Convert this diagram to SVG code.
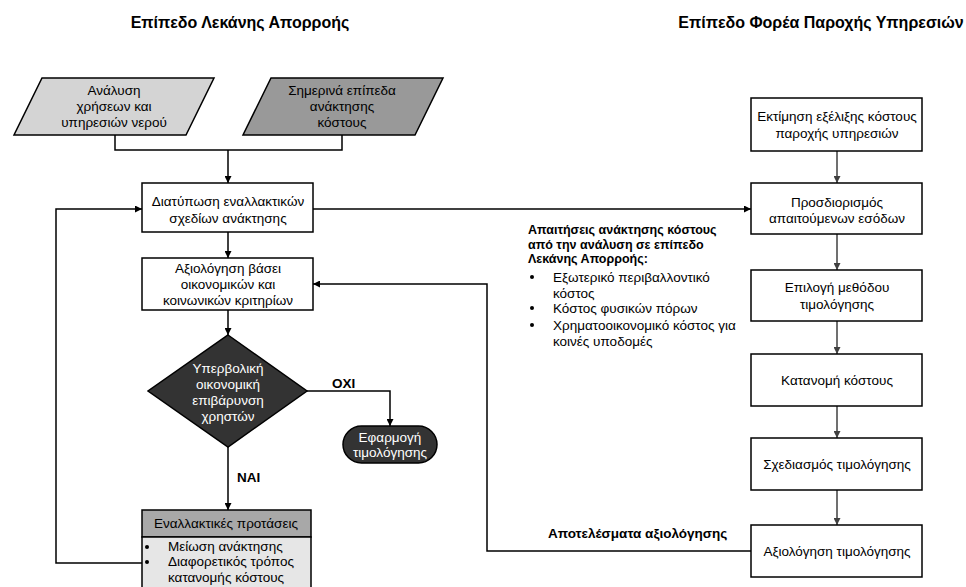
<svg xmlns="http://www.w3.org/2000/svg" width="966" height="587" viewBox="0 0 966 587">
<style>
text{font-family:"Liberation Sans",Arial,sans-serif;font-size:13.5px;fill:#000}
.c{text-anchor:middle}
.b{font-weight:bold}
.r{font-size:12.5px}
.t{font-size:16px;font-weight:bold}
.w{fill:#fff}
.box{fill:#fff;stroke:#000;stroke-width:1.5}
.ln{fill:none;stroke:#000;stroke-width:1.5}
.lg{fill:none;stroke:#404040;stroke-width:1.5}
</style>
<defs>
<marker id="a" viewBox="0 0 10 10" refX="10" refY="5" markerWidth="7" markerHeight="7" markerUnits="userSpaceOnUse" orient="auto"><path d="M0,0 L10,5 L0,10 z" fill="#000"/></marker>
<marker id="ag" viewBox="0 0 10 10" refX="10" refY="5" markerWidth="7" markerHeight="7" markerUnits="userSpaceOnUse" orient="auto"><path d="M0,0 L10,5 L0,10 z" fill="#404040"/></marker>
</defs>
<rect width="966" height="587" fill="#fff"/>
<text class="t c" x="240" y="28">Επίπεδο Λεκάνης Απορροής</text>
<text class="t c" x="821" y="28">Επίπεδο Φορέα Παροχής Υπηρεσιών</text>

<g id="connectors">
<path class="ln" d="M115,135 V150 H342 V135"/>
<path class="ln" d="M228,150 V183" marker-end="url(#a)"/>
<path class="ln" d="M228,232 V258" marker-end="url(#a)"/>
<path class="ln" d="M228,310 V335" marker-end="url(#a)"/>
<path class="ln" d="M307,391 H390 V426" marker-end="url(#a)"/>
<path class="ln" d="M228,447 V510" marker-end="url(#a)"/>
<path class="ln" d="M142,563 H56 V209 H142" marker-end="url(#a)"/>
<path class="ln" d="M313,209 H751" marker-end="url(#a)"/>
<path class="ln" d="M751,551 H487 V284 H313" marker-end="url(#a)"/>
<path class="lg" d="M837,151 V183" marker-end="url(#ag)"/>
<path class="lg" d="M837,234 V270" marker-end="url(#ag)"/>
<path class="lg" d="M837,321 V354" marker-end="url(#ag)"/>
<path class="lg" d="M837,406 V438" marker-end="url(#ag)"/>
<path class="lg" d="M837,490 V525" marker-end="url(#ag)"/>
<text class="b" x="332" y="388">ΟΧΙ</text>
<text class="b" x="237" y="482">ΝΑΙ</text>
<text class="b" x="548" y="538">Αποτελέσματα αξιολόγησης</text>
</g>

<g id="n-analysis">
<path d="M42,78 H214 L186,135 H14 Z" fill="#d4d4d4" stroke="#000" stroke-width="1.5"/>
<text class="c" x="114" y="95">Ανάλυση</text>
<text class="c" x="114" y="111">χρήσεων και</text>
<text class="c" x="114" y="127">υπηρεσιών νερού</text>
</g>
<g id="n-current">
<path d="M271,78 H443 L415,135 H243 Z" fill="#999" stroke="#000" stroke-width="1.5"/>
<text class="c" x="342" y="95">Σημερινά επίπεδα</text>
<text class="c" x="342" y="111">ανάκτησης</text>
<text class="c" x="342" y="127">κόστους</text>
</g>
<g id="n-formulate">
<rect class="box" x="142" y="183" width="171" height="49"/>
<text class="c" x="228" y="206">Διατύπωση εναλλακτικών</text>
<text class="c" x="228" y="223">σχεδίων ανάκτησης</text>
</g>
<g id="n-evaluate">
<rect class="box" x="142" y="258" width="171" height="52"/>
<text class="c" x="228" y="273">Αξιολόγηση βάσει</text>
<text class="c" x="228" y="289">οικονομικών και</text>
<text class="c" x="228" y="305">κοινωνικών κριτηρίων</text>
</g>
<g id="n-decision">
<path d="M228,335 L307,391 L228,447 L148,391 Z" fill="#333" stroke="#000" stroke-width="1.5"/>
<text class="c w" x="228" y="373">Υπερβολική</text>
<text class="c w" x="228" y="389">οικονομική</text>
<text class="c w" x="228" y="405">επιβάρυνση</text>
<text class="c w" x="228" y="421">χρηστών</text>
</g>
<g id="n-apply">
<rect x="343" y="426" width="94" height="37" rx="18.5" fill="#333" stroke="#000" stroke-width="1.5"/>
<text class="c w" x="390" y="442">Εφαρμογή</text>
<text class="c w" x="390" y="457">τιμολόγησης</text>
</g>
<g id="n-alternatives">
<rect x="142" y="510" width="169" height="27" fill="#a8a8a8" stroke="#000" stroke-width="1.5"/>
<rect x="142" y="537" width="169" height="60" fill="#e6e6e6" stroke="#000" stroke-width="1.5"/>
<text class="c" x="226" y="528">Εναλλακτικές προτάσεις</text>
<circle cx="147" cy="547" r="2"/>
<circle cx="147" cy="562" r="2"/>
<text x="168" y="551">Μείωση ανάκτησης</text>
<text x="168" y="566">Διαφορετικός τρόπος</text>
<text x="168" y="582">κατανομής κόστους</text>
</g>
<g id="n-requirements">
<text class="b r" x="528" y="234">Απαιτήσεις ανάκτησης κόστους</text>
<text class="b r" x="528" y="249">από την ανάλυση σε επίπεδο</text>
<text class="b r" x="528" y="263">Λεκάνης Απορροής:</text>
<circle cx="532" cy="277" r="2"/>
<circle cx="532" cy="308" r="2"/>
<circle cx="532" cy="325" r="2"/>
<text x="553" y="282">Εξωτερικό περιβαλλοντικό</text>
<text x="553" y="298">κόστος</text>
<text x="553" y="313">Κόστος φυσικών πόρων</text>
<text x="553" y="330">Χρηματοοικονομικό κόστος για</text>
<text x="553" y="346">κοινές υποδομές</text>
</g>
<g id="n-estimate">
<rect class="box" x="751" y="98" width="171" height="53"/>
<text class="c" x="837" y="121">Εκτίμηση εξέλιξης κόστους</text>
<text class="c" x="837" y="138">παροχής υπηρεσιών</text>
</g>
<g id="n-revenue">
<rect class="box" x="751" y="183" width="171" height="51"/>
<text class="c" x="837" y="207">Προσδιορισμός</text>
<text class="c" x="837" y="223">απαιτούμενων εσόδων</text>
</g>
<g id="n-method">
<rect class="box" x="751" y="270" width="171" height="51"/>
<text class="c" x="837" y="292">Επιλογή μεθόδου</text>
<text class="c" x="837" y="309">τιμολόγησης</text>
</g>
<g id="n-allocation">
<rect class="box" x="751" y="354" width="171" height="52"/>
<text class="c" x="837" y="385">Κατανομή κόστους</text>
</g>
<g id="n-design">
<rect class="box" x="751" y="438" width="171" height="52"/>
<text class="c" x="837" y="469">Σχεδιασμός τιμολόγησης</text>
</g>
<g id="n-assess">
<rect class="box" x="751" y="525" width="171" height="52"/>
<text class="c" x="837" y="556">Αξιολόγηση τιμολόγησης</text>
</g>
</svg>
